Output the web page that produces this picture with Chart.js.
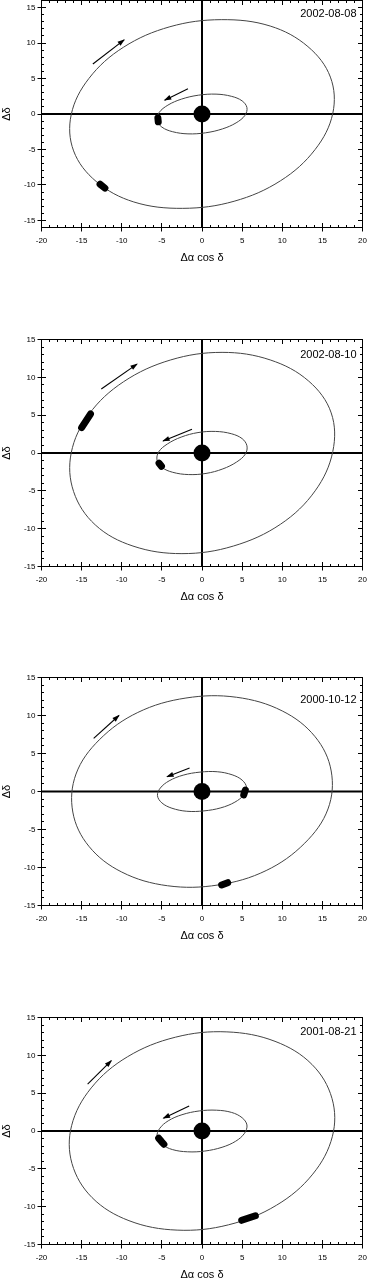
<!DOCTYPE html>
<html>
<head>
<meta charset="utf-8">
<script src="https://cdn.jsdelivr.net/npm/chart.js"></script>
<style>
html,body{margin:0;padding:0;background:#fff;width:367px;height:1279px;overflow:hidden;position:relative;}
.panel{position:absolute;left:0;width:367px;height:300px;}
.panel canvas{display:block;}
</style>
</head>
<body>
<script>
// ---------------- DATA ----------------
const dates = ['2002-08-08', '2002-08-10', '2000-10-12', '2001-08-21'];
const xRange = [-20, 20];
const yRanges = [[-16, 16], [-15, 15], [-15, 15], [-15, 15]];
const center = [[0, 0]];

// outer orbits [x, y]
const outer1 = [[16.0,5.2],[13.2,9.5],[8.5,12.4],[2.4,13.3],[-4.0,12.3],[-9.8,9.4],[-14.1,5.0],[-16.3,-0.1],[-16.0,-5.2],[-13.2,-9.5],[-8.5,-12.4],[-2.4,-13.3],[4.0,-12.3],[9.8,-9.4],[14.1,-5.0],[16.3,0.1]];
const outer2 = [[16.1,5.3],[13.3,9.5],[8.5,12.3],[2.5,13.3],[-3.9,12.3],[-9.8,9.4],[-14.1,5.1],[-16.3,0.0],[-16.0,-5.1],[-13.3,-9.5],[-8.6,-12.3],[-2.5,-13.3],[3.9,-12.3],[9.8,-9.4],[14.1,-5.0],[16.3,0.2]];
const outer3 = [[16.1,2.7],[14.1,7.2],[10.0,10.6],[4.3,12.4],[-2.0,12.3],[-8.0,10.4],[-12.8,6.8],[-15.7,2.3],[-16.1,-2.7],[-14.1,-7.2],[-10.0,-10.6],[-4.3,-12.4],[2.0,-12.3],[8.0,-10.4],[12.8,-6.8],[15.7,-2.3]];
const outer4 = [[16.2,4.3],[13.7,8.8],[9.1,11.85],[3.1,13.1],[-3.3,12.4],[-9.3,9.8],[-13.8,5.7],[-16.25,0.7],[-16.2,-4.3],[-13.7,-8.8],[-9.1,-11.85],[-3.1,-13.1],[3.3,-12.4],[9.3,-9.8],[13.8,-5.7],[16.25,-0.7]];

// inner orbits [x, y]
const inner1 = [[5.6,0.9],[5.0,1.85],[3.65,2.5],[1.75,2.8],[-0.45,2.65],[-2.55,2.1],[-4.25,1.25],[-5.35,0.2],[-5.6,-0.9],[-5.0,-1.85],[-3.65,-2.5],[-1.75,-2.8],[0.45,-2.65],[2.55,-2.1],[4.25,-1.25],[5.35,-0.2]];
const inner2 = [[5.6,0.95],[5.0,1.9],[3.65,2.55],[1.7,2.85],[-0.5,2.7],[-2.6,2.1],[-4.3,1.2],[-5.4,0.15],[-5.6,-0.95],[-5.0,-1.9],[-3.65,-2.55],[-1.7,-2.85],[0.5,-2.7],[2.6,-2.1],[4.3,-1.2],[5.4,-0.15]];
const inner3 = [[5.55,0.55],[5.0,1.5],[3.75,2.2],[1.9,2.6],[-0.25,2.55],[-2.35,2.15],[-4.1,1.4],[-5.2,0.45],[-5.55,-0.55],[-5.0,-1.5],[-3.75,-2.2],[-1.9,-2.6],[0.25,-2.55],[2.35,-2.15],[4.1,-1.4],[5.2,-0.45]];
const inner4 = [[5.6,0.8],[5.0,1.75],[3.7,2.45],[1.8,2.75],[-0.35,2.65],[-2.5,2.15],[-4.2,1.35],[-5.3,0.3],[-5.6,-0.8],[-5.0,-1.75],[-3.7,-2.45],[-1.8,-2.75],[0.35,-2.65],[2.5,-2.15],[4.2,-1.35],[5.3,-0.3]];

// observed positions (thick marks) [x, y]
const blobs1 = [[[-5.5,-0.55],[-5.45,-1.1]], [[-12.7,-9.9],[-12.1,-10.45]]];
const blobs2 = [[[-15.0,3.35],[-14.45,4.25],[-13.9,5.15]], [[-5.35,-1.35],[-5.05,-1.75]]];
const blobs3 = [[[5.2,-0.45],[5.4,0.2]], [[2.45,-12.3],[3.2,-12.0]]];
const blobs4 = [[[-5.4,-0.95],[-5.05,-1.4],[-4.75,-1.75]], [[4.95,-11.8],[5.8,-11.5],[6.65,-11.2]]];

// direction arrows: tail -> head
const arrows1 = [[[-13.6,7.05],[-9.7,10.45]], [[-1.75,3.55],[-4.65,1.95]]];
const arrows2 = [[[-12.55,8.45],[-8.1,11.75]], [[-1.25,3.15],[-4.85,1.6]]];
const arrows3 = [[[-13.5,7.0],[-10.35,10.0]], [[-1.55,3.1],[-4.35,1.95]]];
const arrows4 = [[[-14.25,6.2],[-11.3,9.3]], [[-1.6,3.3],[-4.8,1.7]]];

// ---------------- LAYOUT / STYLE ----------------
const FONT = "'Liberation Sans', Arial, Helvetica, sans-serif";
const layoutCfg = [
  {top: 0.5,    h: 227, labelDy: 13.5},
  {top: 339.5,  h: 227, labelDy: 15},
  {top: 677.5,  h: 228, labelDy: 22},
  {top: 1017.5, h: 227, labelDy: 14}
];
const CANVAS_H = 300, PAD_TOP = 20.5, XAXIS_H = 40, YAXIS_W = 41.5;

const decor = {
  id: 'decor',
  beforeDatasetDraw(chart, args) {
    const ds = chart.data.datasets[args.index];
    const el = args.meta.dataset;
    if (ds.closed && el) {
      el._loop = true; el._fullLoop = true;
      el._segments = undefined; el._path = undefined; el._pointsUpdated = false;
    }
  },
  beforeDatasetsDraw(chart) {
    const {ctx, chartArea: a, scales: {x, y}} = chart;
    ctx.save();
    ctx.strokeStyle = '#000'; ctx.lineWidth = 2;
    const x0 = x.getPixelForValue(0), y0 = y.getPixelForValue(0);
    ctx.beginPath();
    ctx.moveTo(a.left, y0); ctx.lineTo(a.right, y0);
    ctx.moveTo(x0, a.top); ctx.lineTo(x0, a.bottom);
    ctx.stroke();
    ctx.restore();
  },
  afterDatasetsDraw(chart) {
    const ctx = chart.ctx;
    chart.data.datasets.forEach((ds, i) => {
      if (!ds.arrow) return;
      const pts = chart.getDatasetMeta(i).data;
      const n = pts.length;
      const p = pts[n - 1], q = pts[n - 2];
      const ang = Math.atan2(p.y - q.y, p.x - q.x);
      ctx.save();
      ctx.translate(p.x, p.y); ctx.rotate(ang);
      ctx.beginPath(); ctx.moveTo(1, 0); ctx.lineTo(-6.5, -2.5); ctx.lineTo(-6.5, 2.5); ctx.closePath();
      ctx.fillStyle = '#000'; ctx.fill();
      ctx.restore();
    });
  },
  afterDraw(chart, args, opts) {
    const {ctx, chartArea: a, scales: {x, y}} = chart;
    ctx.save();
    ctx.strokeStyle = '#000'; ctx.lineWidth = 1;
    ctx.strokeRect(a.left, a.top, a.right - a.left, a.bottom - a.top);
    ctx.beginPath();
    x.ticks.forEach(t => {
      const px = Math.round(x.getPixelForValue(t.value) - 0.5) + 0.5;
      const L = t.value % 5 === 0 ? 4.5 : 2.5;
      ctx.moveTo(px, a.top); ctx.lineTo(px, a.top + L);
      ctx.moveTo(px, a.bottom); ctx.lineTo(px, a.bottom - L);
    });
    y.ticks.forEach(t => {
      const py = Math.round(y.getPixelForValue(t.value) - 0.5) + 0.5;
      const L = t.value % 5 === 0 ? 4.5 : 2.5;
      ctx.moveTo(a.left, py); ctx.lineTo(a.left + L, py);
      ctx.moveTo(a.right, py); ctx.lineTo(a.right - L, py);
    });
    ctx.stroke();
    ctx.fillStyle = '#000';
    ctx.font = '11px ' + FONT;
    ctx.textAlign = 'right'; ctx.textBaseline = 'middle';
    ctx.fillText(opts.date, a.right - 6, a.top + opts.dy);
    ctx.restore();
  }
};

const toXY = arr => arr.map(p => ({x: p[0], y: p[1]}));
const majorColor = c => (c.tick && c.tick.value % 5 === 0) ? '#000' : 'rgba(0,0,0,0)';

function makePanel(i, outer, inner, blobs, arrows) {
  const L = layoutCfg[i];
  const div = document.createElement('div');
  div.className = 'panel';
  div.style.top = (L.top - PAD_TOP) + 'px';
  const cv = document.createElement('canvas');
  cv.width = 367; cv.height = CANVAS_H;
  div.appendChild(cv);
  document.body.appendChild(div);
  const padBottom = CANVAS_H - XAXIS_H - (PAD_TOP + L.h);

  const datasets = [];
  datasets.push({data: toXY(center), pointRadius: 8.5, pointBackgroundColor: '#000', pointBorderWidth: 0, showLine: false});
  blobs.forEach(b => datasets.push({data: toXY(b), borderColor: '#000', borderWidth: 7, borderCapStyle: 'round', borderJoinStyle: 'round', pointRadius: 0, tension: 0}));
  arrows.forEach(a => datasets.push({data: toXY(a), borderColor: '#000', borderWidth: 1.1, pointRadius: 0, tension: 0, arrow: true}));
  [outer, inner].forEach(o => datasets.push({data: toXY(o), borderColor: '#444', borderWidth: 1, pointRadius: 0, tension: 0.36, closed: true}));

  new Chart(cv, {
    type: 'line',
    data: {datasets},
    options: {
      responsive: false, animation: false, events: [],
      layout: {autoPadding: false, padding: {top: PAD_TOP, left: 0, right: 4.5, bottom: padBottom}},
      plugins: {legend: {display: false}, tooltip: {enabled: false}, decor: {date: dates[i], dy: L.labelDy}},
      scales: {
        x: {
          type: 'linear', min: xRange[0], max: xRange[1],
          afterFit: s => { s.height = XAXIS_H; s.paddingLeft = 0; s.paddingRight = 0; },
          ticks: {stepSize: 1, autoSkip: false, maxRotation: 0, padding: 4, color: '#000', font: {family: FONT, size: 8},
                  callback: v => (v % 5 === 0 ? String(v) : '')},
          grid: {drawOnChartArea: false, drawTicks: true, tickLength: 4, color: majorColor, lineWidth: 1},
          border: {display: false},
          title: {display: true, text: 'Δα cos δ', color: '#000', font: {family: FONT, size: 11}, padding: {top: 0, bottom: 3}}
        },
        y: {
          type: 'linear', min: yRanges[i][0], max: yRanges[i][1],
          afterFit: s => { s.width = YAXIS_W; s.paddingTop = 0; s.paddingBottom = 0; },
          ticks: {stepSize: 1, autoSkip: false, padding: 2, color: '#000', font: {family: FONT, size: 8},
                  callback: v => (v % 5 === 0 ? String(v) : '')},
          grid: {drawOnChartArea: false, drawTicks: true, tickLength: 4, color: majorColor, lineWidth: 1},
          border: {display: false},
          title: {display: true, text: 'Δδ', color: '#000', font: {family: FONT, size: 11}, padding: {top: 0, bottom: 0}}
        }
      }
    },
    plugins: [decor]
  });
}

makePanel(0, outer1, inner1, blobs1, arrows1);
makePanel(1, outer2, inner2, blobs2, arrows2);
makePanel(2, outer3, inner3, blobs3, arrows3);
makePanel(3, outer4, inner4, blobs4, arrows4);
</script>
</body>
</html>
